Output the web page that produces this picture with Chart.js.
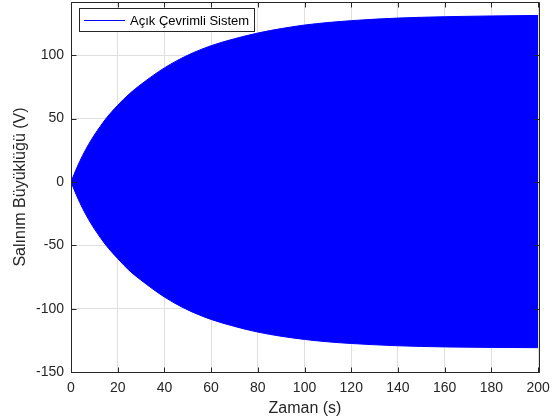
<!DOCTYPE html>
<html>
<head>
<meta charset="utf-8">
<script src="https://cdn.jsdelivr.net/npm/chart.js@4/dist/chart.umd.min.js"></script>
<style>
html,body{margin:0;padding:0;background:#fff;}
#wrap{width:556px;height:420px;}
</style>
</head>
<body>
<div id="wrap"><canvas id="c" width="556" height="420"></canvas></div>
<script>
// Time points (s) and envelope of the oscillation
const times = [0, 2.5, 5, 7.5, 10, 15, 20, 25, 30, 40, 50, 60, 70, 80, 90, 100, 110, 120, 140, 160, 180, 200];
const upperEnvelope = [0, 11.2, 21, 29.5, 37, 50, 60.5, 69.5, 77, 90, 100, 107.5, 113, 117.5, 121, 123.8, 125.8, 127.3, 129.3, 130.4, 131, 131.4];
const lowerEnvelope = [0, -11.2, -21, -29.5, -37, -50, -60.5, -70, -77.5, -90.8, -101, -108.5, -114, -118.5, -121.8, -124.3, -126.2, -127.5, -129.3, -130.2, -130.6, -130.8];
const xTicks = [0, 20, 40, 60, 80, 100, 120, 140, 160, 180, 200];
const yTicks = [-150, -100, -50, 0, 50, 100];
const seriesLabel = 'Açık Çevrimli Sistem';
const xTitle = 'Zaman (s)';
const yTitle = 'Salınım Büyüklüğü (V)';

const FONT = 'Arial, "Liberation Sans", Helvetica, sans-serif';
const AXIS = '#262626';
const BLUE = '#0000FF';

const upperPts = times.map((t, i) => ({x: t, y: upperEnvelope[i]}));
const lowerPts = times.map((t, i) => ({x: t, y: lowerEnvelope[i]}));

const boxPlugin = {
  id: 'boxTicks',
  afterDraw(chart) {
    const {ctx, chartArea: a, scales: {x, y}} = chart;
    ctx.save();
    ctx.strokeStyle = AXIS;
    ctx.lineWidth = 1;
    const L = Math.round(a.left) + 0.5, R = Math.round(a.right) + 0.5;
    const T = Math.round(a.top) + 0.5, B = Math.round(a.bottom) + 0.5;
    ctx.beginPath();
    ctx.rect(L, T, R - L, B - T);
    ctx.stroke();
    const tl = 5;
    ctx.beginPath();
    xTicks.forEach(v => {
      const px = Math.round(x.getPixelForValue(v)) + 0.5;
      ctx.moveTo(px, B); ctx.lineTo(px, B - tl);
      ctx.moveTo(px, T); ctx.lineTo(px, T + tl);
    });
    yTicks.forEach(v => {
      const py = Math.round(y.getPixelForValue(v)) + 0.5;
      ctx.moveTo(L, py); ctx.lineTo(L + tl, py);
      ctx.moveTo(R, py); ctx.lineTo(R - tl, py);
    });
    ctx.stroke();
    // legend box
    const lx = a.left + 8, ly = a.top + 6, lw = 175, lh = 23;
    ctx.fillStyle = '#fff';
    ctx.fillRect(Math.round(lx) + 0.5, Math.round(ly) + 0.5, lw, lh);
    ctx.strokeRect(Math.round(lx) + 0.5, Math.round(ly) + 0.5, lw, lh);
    const my = Math.round(ly + lh / 2) + 0.5;
    ctx.strokeStyle = chart.data.datasets[0].borderColor;
    ctx.beginPath();
    ctx.moveTo(lx + 5, my); ctx.lineTo(lx + 46, my);
    ctx.stroke();
    ctx.fillStyle = '#000';
    ctx.font = '13px ' + FONT;
    ctx.textBaseline = 'middle';
    ctx.fillText(chart.data.datasets[0].label, lx + 51, my + 0.5);
    ctx.restore();
  }
};

new Chart(document.getElementById('c'), {
  type: 'line',
  data: {
    datasets: [
      {
        label: seriesLabel,
        data: upperPts,
        borderColor: BLUE,
        backgroundColor: BLUE,
        borderWidth: 1,
        pointRadius: 0,
        fill: '+1',
        cubicInterpolationMode: 'monotone'
      },
      {
        label: seriesLabel + ' (alt)',
        data: lowerPts,
        borderColor: BLUE,
        backgroundColor: BLUE,
        borderWidth: 1,
        pointRadius: 0,
        fill: false,
        cubicInterpolationMode: 'monotone'
      }
    ]
  },
  options: {
    responsive: false,
    animation: false,
    devicePixelRatio: 1,
    layout: {padding: {top: 2, right: 17, left: 0, bottom: 0}},
    plugins: {legend: {display: false}, tooltip: {enabled: false}},
    scales: {
      x: {
        type: 'linear',
        min: 0,
        max: 200.4,
        afterBuildTicks: s => { s.ticks = xTicks.map(v => ({value: v})); },
        afterFit: s => { s.height = 48; s.paddingLeft = 0; s.paddingRight = 0; },
        grid: {color: '#dfdfdf', drawTicks: false, lineWidth: 1},
        border: {display: false},
        ticks: {color: AXIS, font: {family: FONT, size: 14}, padding: 8, maxRotation: 0, autoSkip: false},
        title: {display: true, text: xTitle, color: AXIS, font: {family: FONT, size: 16}, padding: {top: 0, bottom: 2}}
      },
      y: {
        type: 'linear',
        min: -150,
        max: 142,
        afterBuildTicks: s => { s.ticks = yTicks.map(v => ({value: v})); },
        afterFit: s => { s.width = 71; s.paddingTop = 0; s.paddingBottom = 0; },
        grid: {color: '#dfdfdf', drawTicks: false, lineWidth: 1},
        border: {display: false},
        ticks: {color: AXIS, font: {family: FONT, size: 14}, padding: 7, autoSkip: false},
        title: {display: true, text: yTitle, color: AXIS, font: {family: FONT, size: 16}, padding: {top: 11, bottom: 0}}
      }
    }
  },
  plugins: [boxPlugin]
});
</script>
</body>
</html>
